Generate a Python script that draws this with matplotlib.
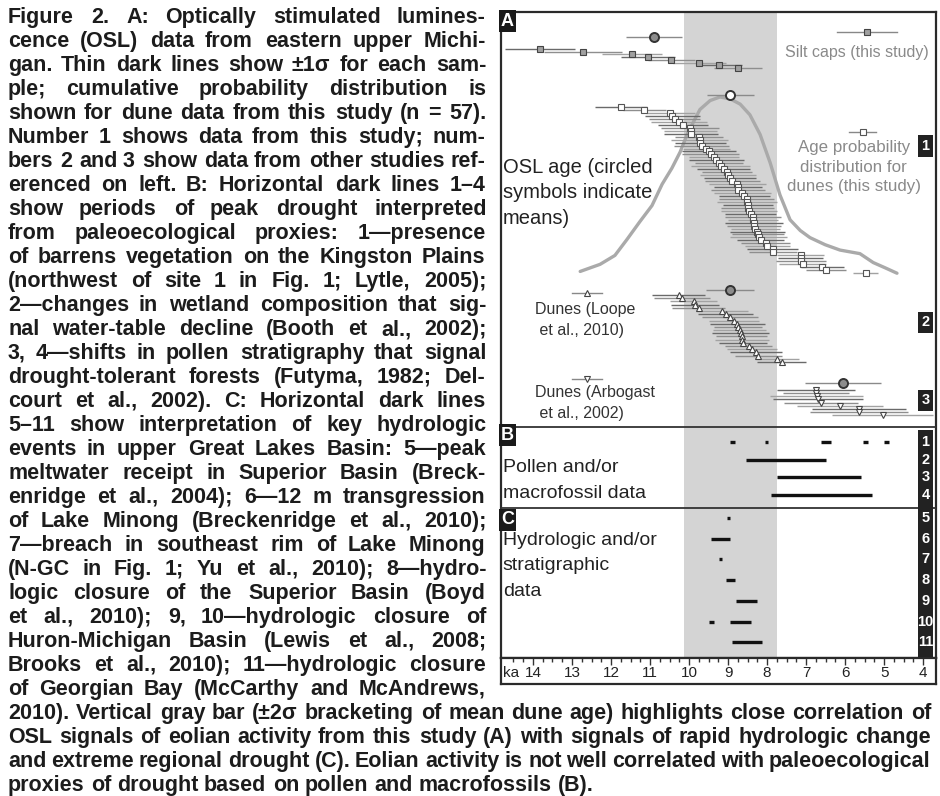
import matplotlib
matplotlib.use('Agg')
import matplotlib.pyplot as plt
from matplotlib.transforms import blended_transform_factory

W, H, DPI = 940, 796, 100

# ---------------- data (ages in ka, 1 sigma in ka) ----------------
silt_age = [13.82, 12.72, 11.46, 11.05, 10.46, 9.74, 9.23, 8.74]
silt_sig = [0.90, 1.00, 0.77, 0.70, 0.60, 0.68, 0.60, 0.62]
silt_mean = (10.90, 0.72)

dune_age = [11.75, 11.15, 10.48, 10.43, 10.37, 10.26, 10.15, 9.98, 9.96, 9.95,
            9.75, 9.73, 9.71, 9.68, 9.56, 9.48, 9.45, 9.36, 9.30, 9.24,
            9.19, 9.11, 9.02, 9.00, 8.95, 8.89, 8.76, 8.75, 8.75, 8.64,
            8.58, 8.52, 8.51, 8.49, 8.49, 8.47, 8.42, 8.36, 8.36, 8.34,
            8.34, 8.30, 8.25, 8.23, 8.21, 8.16, 8.04, 7.99, 7.86, 7.85,
            7.14, 7.14, 7.12, 7.09, 6.58, 6.49, 5.47]
dune_sig = [0.67, 0.55, 0.62, 0.70, 0.66, 0.72, 0.64, 0.75, 0.68, 0.70,
            0.62, 0.74, 0.66, 0.71, 0.60, 0.69, 0.73, 0.65, 0.70, 0.62,
            0.76, 0.68, 0.64, 0.72, 0.66, 0.70, 0.74, 0.61, 0.69, 0.73,
            0.65, 0.70, 0.77, 0.63, 0.68, 0.72, 0.66, 0.71, 0.64, 0.75,
            0.69, 0.62, 0.70, 0.66, 0.73, 0.60, 0.64, 0.58, 0.66, 0.61,
            0.60, 0.58, 0.64, 0.61, 0.55, 0.52, 0.32]
dune_mean = (8.94, 0.60)

loope_age = [10.26, 10.18, 9.88, 9.85, 9.75, 9.15, 9.06, 8.95, 8.85, 8.76, 8.75,
             8.70, 8.68, 8.65, 8.64, 8.62, 8.47, 8.38, 8.29, 8.23, 7.74, 7.63]
loope_sig = [0.68, 0.72, 0.60, 0.62, 0.68, 0.66, 0.70, 0.72, 0.64, 0.70, 0.62,
             0.68, 0.74, 0.66, 0.70, 0.62, 0.60, 0.64, 0.66, 0.60, 0.55, 0.62]
loope_mean = (8.95, 0.62)

arbo_age = [6.75, 6.75, 6.73, 6.69, 6.62, 6.13, 5.65, 5.65, 5.04]
arbo_sig = [1.00, 0.85, 1.20, 1.15, 0.95, 1.10, 1.20, 1.25, 1.30]
arbo_mean = (6.06, 0.97)

cpd_age = [12.79, 12.28, 11.90, 11.59, 11.26, 10.95, 10.69, 10.44, 10.23, 10.03,
           9.72, 9.46, 9.21, 8.95, 8.69, 8.44, 8.18, 7.92, 7.67, 7.41,
           7.15, 6.90, 6.51, 6.13, 5.62, 5.28, 4.97, 4.67]
cpd_prob = [0.02, 0.06, 0.11, 0.20, 0.30, 0.39, 0.51, 0.60, 0.69, 0.80,
            0.93, 0.98, 1.00, 0.99, 0.96, 0.90, 0.79, 0.63, 0.45, 0.31,
            0.25, 0.21, 0.17, 0.14, 0.12, 0.07, 0.04, 0.01]

gray_band = (10.13, 7.74)

pollen_periods = [[(8.94, 8.81), (8.06, 7.98), (6.62, 6.36), (5.54, 5.41), (5.00, 4.87)],
                  [(8.53, 6.49)],
                  [(7.75, 5.58)],
                  [(7.91, 5.32)]]
hydro_periods = [[(9.02, 8.94)],
                 [(9.43, 8.94)],
                 [(9.24, 9.15)],
                 [(9.05, 8.81)],
                 [(8.79, 8.27)],
                 [(9.48, 9.37), (8.96, 8.40)],
                 [(8.89, 8.12)]]

tick_ka = [14, 13, 12, 11, 10, 9, 8, 7, 6, 5, 4]

caption_left = [
    "Figure 2. A: Optically stimulated lumines-",
    "cence (OSL) data from eastern upper Michi-",
    "gan. Thin dark lines show ±1σ for each sam-",
    "ple; cumulative probability distribution is",
    "shown for dune data from this study (n = 57).",
    "Number 1 shows data from this study; num-",
    "bers 2 and 3 show data from other studies ref-",
    "erenced on left.  B: Horizontal dark lines 1–4",
    "show periods of peak drought interpreted",
    "from paleoecological proxies: 1—presence",
    "of barrens vegetation on the Kingston Plains",
    "(northwest of site 1 in Fig. 1; Lytle, 2005);",
    "2—changes in wetland composition that sig-",
    "nal water-table decline (Booth et al., 2002);",
    "3, 4—shifts in pollen stratigraphy that signal",
    "drought-tolerant forests (Futyma, 1982; Del-",
    "court et al., 2002).  C: Horizontal dark lines",
    "5–11 show interpretation of key hydrologic",
    "events in upper Great Lakes Basin: 5—peak",
    "meltwater receipt in Superior Basin (Breck-",
    "enridge et al., 2004); 6—12 m transgression",
    "of Lake Minong (Breckenridge et al., 2010);",
    "7—breach in southeast rim of Lake Minong",
    "(N-GC in Fig. 1; Yu et al., 2010); 8—hydro-",
    "logic closure of the Superior Basin (Boyd",
    "et al., 2010); 9, 10—hydrologic closure of",
    "Huron-Michigan Basin (Lewis et al., 2008;",
    "Brooks et al., 2010); 11—hydrologic closure",
    "of Georgian Bay (McCarthy and McAndrews,",
]
caption_full = [
    "2010). Vertical gray bar (±2σ bracketing of mean dune age) highlights close correlation of",
    "OSL signals of eolian activity from this study (A) with signals of rapid hydrologic change",
    "and extreme regional drought (C). Eolian activity is not well correlated with paleoecological",
    "proxies of drought based on pollen and macrofossils (B).",
]

# ---------------- layout helpers ----------------
plt.rcParams['font.family'] = ['Liberation Sans', 'DejaVu Sans']
fig = plt.figure(figsize=(W / DPI, H / DPI), dpi=DPI)

X0, X1 = 501, 936          # panel edges (px)
TOP, AX_BOT, STRIP_BOT = 12, 658, 684
XLIM = (14.82, 3.67)


def fbox(x0, y0, x1, y1):
    return [x0 / W, 1 - y1 / H, (x1 - x0) / W, (y1 - y0) / H]


ax = fig.add_axes(fbox(X0, TOP, X1, AX_BOT))
ax.set_xlim(*XLIM)
ax.set_ylim(AX_BOT, TOP)     # y in rows (pixel rows from top)
ax.set_xticks([]); ax.set_yticks([])
for s in ax.spines.values():
    s.set_linewidth(1.6); s.set_color('#2a2a2a')
tr = blended_transform_factory(ax.transAxes, ax.transData)

ax.axvspan(*gray_band, color='#d4d4d4', lw=0, zorder=0)
ax.axhline(427, color='#333', lw=1.3, zorder=4)
ax.axhline(508, color='#333', lw=1.3, zorder=4)

bar_cols = ['#6a6a6a', '#8e8e8e', '#a2a2a2']


def rows(n, y0, y1):
    return [y0 + (y1 - y0) * i / max(n - 1, 1) for i in range(n)]


def series(ages, sigs, y0, y1, marker, mfc, mec, ms):
    ys = rows(len(ages), y0, y1)
    for i, (a, s, y) in enumerate(zip(ages, sigs, ys)):
        ax.hlines(y, a - s, a + s, color=bar_cols[i % 3], lw=1.0, zorder=2)
    ax.plot(ages, ys, ls='none', marker=marker, mfc=mfc, mec=mec, ms=ms, mew=0.8, zorder=3)


def mean_mark(mean, y, mfc):
    ax.hlines(y, mean[0] - mean[1], mean[0] + mean[1], color='#8a8a8a', lw=1.0, zorder=2)
    ax.plot([mean[0]], [y], 'o', mfc=mfc, mec='#333', ms=6.5, mew=1.4, zorder=3)


# probability curve
base, height = 275, 178
ax.plot(cpd_age, [base - p * height for p in cpd_prob], color='#aaaaaa', lw=2.4,
        solid_capstyle='round', solid_joinstyle='round', zorder=1)

series(silt_age, silt_sig, 49, 68, 's', '#a0a0a0', '#444', 4.0)
mean_mark(silt_mean, 37, '#8c8c8c')
series(dune_age, dune_sig, 107, 273, 's', 'white', '#555', 4.2)
mean_mark(dune_mean, 95, 'white')
series(loope_age, loope_sig, 295, 362, '^', 'white', '#444', 4.6)
mean_mark(loope_mean, 290, '#8c8c8c')
series(arbo_age, arbo_sig, 390, 415, 'v', 'white', '#444', 4.6)
mean_mark(arbo_mean, 383, '#8c8c8c')

# panel B & C periods
for i, periods in enumerate(pollen_periods):
    y = 442 + i * 17.7
    for a, b in periods:
        ax.hlines(y, a, b, color='#111', lw=2.4, zorder=3)
for i, periods in enumerate(hydro_periods):
    y = 518 + i * 20.7
    for a, b in periods:
        ax.hlines(y, a, b, color='#111', lw=2.4, zorder=3)


# legend glyphs
def glyph(xf, y, half, marker, mfc, mec):
    ax.plot([xf - half, xf + half], [y, y], color='#888', lw=1.0, transform=tr, zorder=3)
    ax.plot([xf], [y], marker=marker, mfc=mfc, mec=mec, ms=4.2, mew=0.8, transform=tr, zorder=3)


glyph(0.841, 32, 0.069, 's', '#a0a0a0', '#444')
glyph(0.832, 132, 0.031, 's', 'white', '#555')
glyph(0.198, 293, 0.034, '^', 'white', '#444')
glyph(0.198, 379, 0.034, 'v', 'white', '#444')

grey_txt = '#8a8a8a'
ax.text(0.983, 53, 'Silt caps (this study)', transform=tr, ha='right', va='center',
        size=11.5, color=grey_txt)
ax.text(0.811, 167, 'Age probability\ndistribution for\ndunes (this study)', transform=tr,
        ha='center', va='center', size=12.2, color=grey_txt, linespacing=1.36)
ax.text(0.004, 193, 'OSL age (circled\nsymbols indicate\nmeans)', transform=tr,
        ha='left', va='center', size=14.5, color='#222', linespacing=1.46)
ax.text(0.078, 320, 'Dunes (Loope\n et al., 2010)', transform=tr, ha='left', va='center',
        size=11.5, color='#333', linespacing=1.55)
ax.text(0.078, 403, 'Dunes (Arbogast\n et al., 2002)', transform=tr, ha='left', va='center',
        size=11.5, color='#333', linespacing=1.45)
ax.text(0.004, 468, 'Pollen and/or', transform=tr, ha='left', va='center', size=14, color='#222')
ax.text(0.004, 493, 'macrofossil data', transform=tr, ha='left', va='center', size=14, color='#222')
ax.text(0.004, 566, 'Hydrologic and/or\nstratigraphic\ndata', transform=tr, ha='left',
        va='center', size=14, color='#222', linespacing=1.62)

# panel letters
for letter, y in [('A', 21), ('B', 435), ('C', 520)]:
    ax.text(0.0, y, letter, transform=tr, ha='left', va='center', size=13, weight='bold',
            color='white', zorder=6,
            bbox=dict(boxstyle='square,pad=0.12', fc='#1a1a1a', ec='none'))

# number column
cx0, cx1 = (918 - X0) / (X1 - X0), (933 - X0) / (X1 - X0)
num_box = dict(color='#222', lw=0, zorder=5, transform=tr)
for y0, y1 in [(135, 157), (312, 333), (390, 411), (430, AX_BOT)]:
    ax.fill_between([cx0, cx1], [y0, y0], [y1, y1], **num_box)
num_y = [146, 322, 400] + [442 + i * 17.7 for i in range(4)] + [518 + i * 20.7 for i in range(7)]
num_lab = ['1', '2', '3'] + [str(i) for i in range(1, 12)]
for lab, y in zip(num_lab, num_y):
    ax.text((cx0 + cx1) / 2, y, lab, transform=tr, ha='center', va='center', size=10.5,
            weight='bold', color='white', zorder=6)

# time strip
axs = fig.add_axes(fbox(X0, AX_BOT, X1, STRIP_BOT))
axs.set_xlim(*XLIM); axs.set_ylim(0, 1)
axs.set_yticks([])
axs.xaxis.set_ticks_position('top')
axs.set_xticks(tick_ka)
axs.set_xticks([t / 4 for t in range(16, 59)], minor=True)
axs.tick_params(axis='x', which='both', direction='in', labeltop=False, labelbottom=False,
                color='#333', width=1.0)
axs.tick_params(axis='x', which='major', length=5)
axs.tick_params(axis='x', which='minor', length=3)
for s in axs.spines.values():
    s.set_linewidth(1.6); s.set_color('#2a2a2a')
for t in tick_ka:
    axs.text(t, 0.42, str(t), ha='center', va='center', size=11, color='#222')
axs.text(0.005, 0.42, 'ka', transform=axs.transAxes, ha='left', va='center', size=11, color='#222')

# caption, justified word by word (baselines on whole pixels)
cap = dict(size=15.5, weight='bold', color='#1c1c1c', va='baseline', ha='left')
renderer = fig.canvas.get_renderer()


def justify(lines, x0, x1, base0, step, last_ragged):
    for i, line in enumerate(lines):
        y = 1 - round(base0 + i * step) / H
        words = line.split()
        arts = [fig.text(0, y, w, **cap) for w in words]
        widths = [a.get_window_extent(renderer).width for a in arts]
        if (last_ragged and i == len(lines) - 1) or len(words) == 1:
            gap = 6.0
        else:
            gap = ((x1 - x0) - sum(widths)) / (len(words) - 1)
        x = x0
        for a, w in zip(arts, widths):
            a.set_x(round(x) / W)
            x += w + gap


justify(caption_left, 8, 486, 23, 24, False)
justify(caption_full, 8, 931, 23 + 24 * len(caption_left), 24, True)

fig.savefig('out.png', dpi=DPI)
